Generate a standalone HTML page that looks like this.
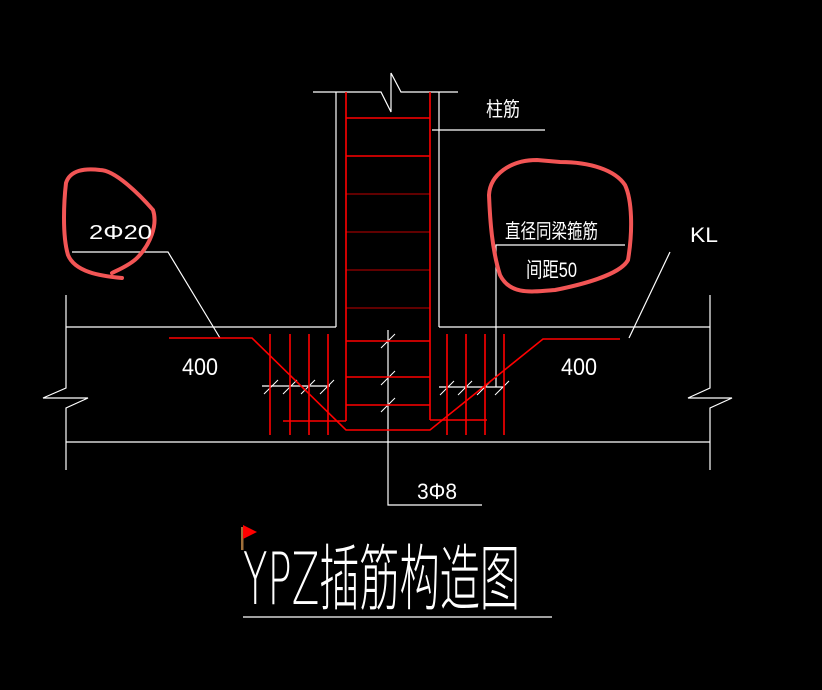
<!DOCTYPE html>
<html><head><meta charset="utf-8"><style>html,body{margin:0;padding:0;background:#000}svg{display:block}</style></head>
<body>
<svg width="822" height="690" viewBox="0 0 822 690" xmlns="http://www.w3.org/2000/svg">
<rect width="822" height="690" fill="#000"/>
<g stroke="#fff" stroke-width="1.2" fill="none">
<!-- column -->
<polyline points="313,92 381,92 391,112 391,73 401,92 458,92"/>
<line x1="336" y1="92" x2="336" y2="327"/>
<line x1="439" y1="92" x2="439" y2="327"/>
<line x1="432" y1="130" x2="545" y2="130"/>
<!-- beam -->
<line x1="66" y1="327" x2="336" y2="327"/>
<line x1="439" y1="327" x2="710" y2="327"/>
<line x1="66" y1="442" x2="710" y2="442"/>
<polyline points="66,295 66,388 43,398 88,398 66,408 66,470"/>
<polyline points="710,295 710,388 688,398 732,398 710,408 710,470"/>
<!-- leaders -->
<polyline points="72,252 168,252 220,338"/>
<polyline points="496,387 496,245 625,245"/>
<line x1="670" y1="252" x2="629" y2="338"/>
<polyline points="388,330 388,505 482,505"/>
<line x1="262" y1="386" x2="330" y2="386"/>
<line x1="439" y1="387" x2="503" y2="387"/>
<!-- ticks -->
<g stroke-width="1">
<line x1="264" y1="394" x2="278" y2="380"/><line x1="283" y1="394" x2="297" y2="380"/>
<line x1="301" y1="394" x2="315" y2="380"/><line x1="320" y1="394" x2="334" y2="380"/>
<line x1="440" y1="395" x2="454" y2="381"/><line x1="458" y1="395" x2="472" y2="381"/>
<line x1="477" y1="395" x2="491" y2="381"/><line x1="495" y1="395" x2="509" y2="381"/>
<line x1="381" y1="348" x2="395" y2="334"/><line x1="381" y1="385" x2="395" y2="371"/>
<line x1="381" y1="412" x2="395" y2="398"/>
</g>
<line x1="243" y1="617" x2="552" y2="617"/>
</g>
<g stroke="#f00" stroke-width="1.6" fill="none">
<line x1="346" y1="92" x2="346" y2="421"/>
<line x1="430" y1="92" x2="430" y2="420"/>
<line x1="346" y1="118" x2="430" y2="118"/>
<line x1="346" y1="156" x2="430" y2="156"/>
<line x1="346" y1="341" x2="430" y2="341"/>
<line x1="346" y1="377" x2="430" y2="377"/>
<line x1="346" y1="405" x2="430" y2="405"/>
<line x1="283" y1="421" x2="346" y2="421"/>
<line x1="430" y1="420" x2="487" y2="420"/>
<polyline points="169,338 252,338 346,430 430,430 543,339 620,339"/>
<line x1="270" y1="334" x2="270" y2="435"/><line x1="290" y1="334" x2="290" y2="435"/>
<line x1="309" y1="334" x2="309" y2="435"/><line x1="328" y1="334" x2="328" y2="435"/>
<line x1="447" y1="334" x2="447" y2="435"/><line x1="466" y1="334" x2="466" y2="435"/>
<line x1="485" y1="334" x2="485" y2="435"/><line x1="504" y1="334" x2="504" y2="435"/>
</g>
<g stroke="#f00" stroke-width="0.8">
<line x1="346" y1="194" x2="430" y2="194"/><line x1="346" y1="232" x2="430" y2="232"/>
<line x1="346" y1="270" x2="430" y2="270"/><line x1="346" y1="308" x2="430" y2="308"/>
</g>
<!-- hand circles -->
<g stroke="#f25555" stroke-width="4" fill="none" stroke-linecap="round">
<path d="M122,278 C100,276 75,272 68,255 C62,235 64,200 66,183 C70,170 85,168 100,170 C115,170 140,195 153,210 C158,225 150,245 137,258 C130,265 118,270 112,273"/>
<path d="M537,160 C510,160 490,175 489,195 C490,220 492,250 500,275 C510,295 530,292 555,290 C580,285 620,275 628,260 C633,230 632,200 625,185 C615,170 590,162 560,162 Z"/>
</g>
<!-- flag -->
<rect x="241" y="527" width="2.5" height="23" fill="#a0703a"/>
<polygon points="243,525 257,532 243,539" fill="#f00"/>
<g fill="#fff" font-family="'Liberation Sans','Noto Sans CJK SC',sans-serif">
<text x="486" y="116" font-size="20" textLength="34" lengthAdjust="spacingAndGlyphs">柱筋</text>
<text x="89" y="239" font-size="20" textLength="63" lengthAdjust="spacingAndGlyphs">2Φ20</text>
<text x="505" y="238" font-size="20" textLength="93" lengthAdjust="spacingAndGlyphs">直径同梁箍筋</text>
<text x="526" y="277" font-size="21" textLength="51" lengthAdjust="spacingAndGlyphs">间距50</text>
<text x="690" y="242" font-size="21" textLength="28" lengthAdjust="spacingAndGlyphs">KL</text>
<text x="182" y="375" font-size="24" textLength="36" lengthAdjust="spacingAndGlyphs">400</text>
<text x="561" y="375" font-size="24" textLength="36" lengthAdjust="spacingAndGlyphs">400</text>
<text x="417" y="499" font-size="22" textLength="40" lengthAdjust="spacingAndGlyphs">3Φ8</text>
<text x="243" y="604" font-size="72" textLength="277" lengthAdjust="spacingAndGlyphs" style="font-family:'DejaVu Sans','Noto Sans CJK SC',sans-serif;font-weight:200">YPZ插筋构造图</text>
</g>
</svg>
</body></html>
